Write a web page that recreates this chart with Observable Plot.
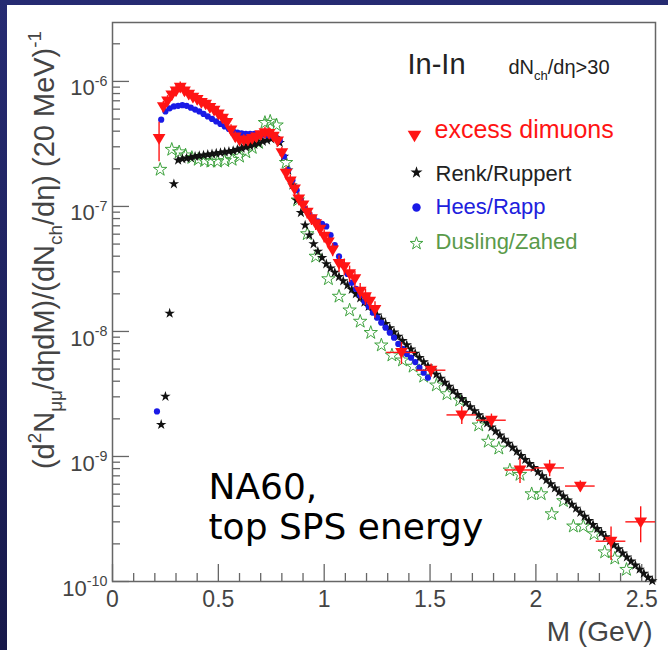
<!DOCTYPE html>
<html>
<head>
<meta charset="utf-8">
<script src="https://cdn.jsdelivr.net/npm/d3@7"></script>
<script src="https://cdn.jsdelivr.net/npm/@observablehq/plot@0.6"></script>
<style>
html, body { margin: 0; padding: 0; width: 668px; height: 650px; overflow: hidden;
  background: linear-gradient(to bottom, #262b72, #17194a); }
#wrap { position: absolute; left: 7px; top: 5px; width: 661px; height: 645px; background: #fff; }
#wrap svg { display: block; }
</style>
</head>
<body>
<div id="wrap"></div>
<script>
// ---------------- DATA ----------------
// NA60 excess dimuons (In-In, dNch/deta > 30)
const excessMass = [0.22,0.24,0.26,0.28,0.30,0.32,0.34,0.36,0.38,0.40,
  0.42,0.44,0.46,0.48,0.50,0.52,0.54,0.56,0.58,0.60,
  0.62,0.64,0.66,0.68,0.70,0.72,0.74,0.76,0.78,0.80,
  0.82,0.84,0.86,0.88,0.90,0.92,0.94,0.96,0.98,1.00,
  1.02,1.04,1.07,1.095,1.12,1.145,1.17,1.195,1.215,1.24,
  1.365,1.505,1.65,1.79,1.925,2.065,2.21,2.355,2.495];
const excessValue = [3.5e-7,6.3e-7,7.0e-7,7.8e-7,8.4e-7,9.0e-7,8.4e-7,7.9e-7,7.5e-7,7.2e-7,
  6.8e-7,6.6e-7,6.2e-7,5.9e-7,5.5e-7,5.1e-7,4.7e-7,4.1e-7,3.6e-7,3.4e-7,
  3.4e-7,3.4e-7,3.5e-7,3.6e-7,3.75e-7,3.9e-7,3.85e-7,3.65e-7,3.35e-7,2.7e-7,
  1.85e-7,1.6e-7,1.38e-7,1.15e-7,1.03e-7,9.0e-8,8.0e-8,7.3e-8,6.6e-8,5.8e-8,
  5.2e-8,4.5e-8,3.5e-8,3.3e-8,2.9e-8,2.65e-8,2.1e-8,1.9e-8,1.75e-8,1.5e-8,
  6.8e-9,4.9e-9,2.15e-9,1.95e-9,7.8e-10,8.1e-10,5.8e-10,2.1e-10,3.0e-10];
// relative vertical error of each excess point
const excessRelErr = [0.35,0.1,0.1,0.1,0.1,0.1,0.1,0.1,0.1,0.1,
  0.1,0.1,0.1,0.1,0.1,0.1,0.1,0.1,0.1,0.1,
  0.1,0.1,0.1,0.1,0.1,0.1,0.1,0.1,0.1,0.1,
  0.12,0.12,0.12,0.12,0.12,0.12,0.12,0.12,0.12,0.12,
  0.12,0.12,0.15,0.15,0.15,0.15,0.15,0.15,0.15,0.15,
  0.2,0.12,0.16,0.12,0.22,0.15,0.1,0.3,0.32];
// half width of each mass bin (GeV)
const excessBinHalf = [0.01,0.01,0.01,0.01,0.01,0.01,0.01,0.01,0.01,0.01,
  0.01,0.01,0.01,0.01,0.01,0.01,0.01,0.01,0.01,0.01,
  0.01,0.01,0.01,0.01,0.01,0.01,0.01,0.01,0.01,0.01,
  0.01,0.01,0.01,0.01,0.01,0.01,0.01,0.01,0.01,0.01,
  0.01,0.01,0.0125,0.0125,0.0125,0.0125,0.0125,0.0125,0.0125,0.0125,
  0.07,0.07,0.07,0.07,0.07,0.07,0.07,0.07,0.07];

// Renk/Ruppert model: mass (GeV) and log10 of the yield
const renkMass = [0.23,0.25,0.27,0.29,0.31,0.33,0.35,0.37,0.39,0.41,
  0.43,0.45,0.47,0.49,0.51,0.53,0.55,0.57,0.59,0.61,
  0.63,0.65,0.67,0.69,0.71,0.73,0.75,0.77,0.79,0.81,
  0.83,0.85,0.87,0.89,0.91,0.93,0.95,0.97,0.99,1.01,
  1.03,1.05,1.07,1.09,1.11,1.13,1.15,1.17,1.19,1.21,
  1.23,1.25,1.27,1.29,1.31,1.33,1.35,1.37,1.39,1.41,
  1.43,1.45,1.47,1.49,1.51,1.53,1.55,1.57,1.59,1.61,
  1.63,1.65,1.67,1.69,1.71,1.73,1.75,1.77,1.79,1.81,
  1.83,1.85,1.87,1.89,1.91,1.93,1.95,1.97,1.99,2.01,
  2.03,2.05,2.07,2.09,2.11,2.13,2.15,2.17,2.19,2.21,
  2.23,2.25,2.27,2.29,2.31,2.33,2.35,2.37,2.39,2.41,
  2.43,2.45,2.47,2.49,2.51,2.53,2.55];
const renkLog10 = [-8.745,-8.52,-7.855,-6.82,-6.63,-6.62,-6.615,-6.61,-6.60,-6.595,
  -6.59,-6.585,-6.58,-6.575,-6.57,-6.565,-6.56,-6.555,-6.545,-6.535,
  -6.525,-6.515,-6.505,-6.495,-6.48,-6.47,-6.46,-6.45,-6.49,-6.6,
  -6.71,-6.83,-6.95,-7.05,-7.15,-7.23,-7.3,-7.36,-7.41,-7.46,
  -7.494,-7.528,-7.562,-7.596,-7.63,-7.665,-7.699,-7.733,-7.767,-7.801,
  -7.835,-7.869,-7.903,-7.937,-7.972,-8.006,-8.04,-8.074,-8.108,-8.142,
  -8.176,-8.21,-8.244,-8.278,-8.31,-8.343,-8.375,-8.408,-8.44,-8.473,
  -8.505,-8.538,-8.57,-8.603,-8.635,-8.668,-8.70,-8.733,-8.765,-8.798,
  -8.83,-8.863,-8.895,-8.928,-8.96,-8.993,-9.025,-9.058,-9.09,-9.123,
  -9.155,-9.188,-9.22,-9.253,-9.285,-9.318,-9.35,-9.383,-9.415,-9.448,
  -9.48,-9.513,-9.545,-9.578,-9.61,-9.643,-9.675,-9.708,-9.74,-9.773,
  -9.805,-9.838,-9.87,-9.903,-9.935,-9.968,-9.995];

// Hees/Rapp model
const heesMass = [0.21,0.23,0.25,0.27,0.29,0.31,0.33,0.35,0.37,0.39,
  0.41,0.43,0.45,0.47,0.49,0.51,0.53,0.55,0.57,0.59,
  0.61,0.63,0.65,0.67,0.69,0.71,0.73,0.75,0.77,0.79,
  0.81,0.83,0.85,0.87,0.89,0.91,0.93,0.95,0.97,0.99,
  1.01,1.03,1.05,1.07,1.09,1.11,1.13,1.15,1.17,1.19,
  1.21,1.23,1.25,1.27,1.29,1.31,1.33,1.35,1.37,1.39,
  1.41,1.43,1.45,1.47,1.49];
const heesLog10 = [-8.64,-6.306,-6.24,-6.215,-6.2,-6.195,-6.19,-6.195,-6.21,-6.225,
  -6.24,-6.26,-6.28,-6.30,-6.32,-6.34,-6.36,-6.38,-6.40,-6.41,
  -6.415,-6.42,-6.42,-6.42,-6.42,-6.425,-6.43,-6.435,-6.44,-6.47,
  -6.6,-6.71,-6.79,-6.87,-6.95,-7.02,-7.06,-7.09,-7.12,-7.14,
  -7.16,-7.23,-7.31,-7.40,-7.47,-7.54,-7.61,-7.66,-7.71,-7.76,
  -7.80,-7.85,-7.89,-7.93,-7.97,-8.01,-8.05,-8.10,-8.14,-8.18,
  -8.21,-8.245,-8.29,-8.33,-8.37];

// Dusling/Zahed model
const dzMass = [0.225,0.28,0.315,0.345,0.375,0.405,0.435,0.465,0.495,0.53,
  0.565,0.60,0.63,0.66,0.69,0.72,0.745,0.775,0.82,0.875,
  0.92,0.96,1.02,1.07,1.12,1.17,1.22,1.27,1.32,1.37,
  1.42,1.47,1.53,1.58,1.64,1.73,1.775,1.825,1.877,1.925,
  1.98,2.025,2.075,2.13,2.177,2.224,2.275,2.325,2.373,2.428];
const dzLog10 = [-6.705,-6.545,-6.565,-6.59,-6.61,-6.625,-6.635,-6.64,-6.64,-6.635,
  -6.625,-6.60,-6.565,-6.53,-6.49,-6.33,-6.32,-6.35,-6.65,-6.95,
  -7.22,-7.40,-7.58,-7.72,-7.83,-7.92,-8.01,-8.11,-8.19,-8.23,
  -8.28,-8.36,-8.43,-8.5,-8.55,-8.75,-8.88,-8.935,-9.11,-9.145,
  -9.30,-9.30,-9.46,-9.355,-9.558,-9.558,-9.62,-9.765,-9.815,-9.905];

// Axis ticks and texts
const xMajorTicks = [0, 0.5, 1, 1.5, 2, 2.5];
const xMinorTicks = [0.1,0.2,0.3,0.4,0.6,0.7,0.8,0.9,1.1,1.2,1.3,1.4,1.6,1.7,1.8,1.9,2.1,2.2,2.3,2.4];
const yMajorTicks = [1e-10, 1e-9, 1e-8, 1e-7, 1e-6];
const yMinorFactors = [2, 3, 4, 5, 6, 7, 8, 9];
const xDomain = [0, 2.565];
const yDomain = [1e-10, 2.96e-6];
const seriesNames = ["excess dimuons", "Renk/Ruppert", "Hees/Rapp", "Dusling/Zahed"];
const xTitle = "M (GeV)";
const yTitle = "(d^{2}N_{μμ}/dηdM)/(dN_{ch}/dη) (20 MeV)^{-1}";
const systemLabel = "In-In";
const cutLabel = "dN_{ch}/dη>30";
const noteLabel = "NA60,\ntop SPS energy";

// ---------------- tables built from the arrays ----------------
const excess = excessMass.map((m, i) => ({
  m, v: excessValue[i],
  lo: excessValue[i] * (1 - excessRelErr[i]), hi: excessValue[i] * (1 + excessRelErr[i]),
  m1: m - excessBinHalf[i], m2: m + excessBinHalf[i]
}));
const renk = renkMass.map((m, i) => ({m, v: Math.pow(10, renkLog10[i])}));
const hees = heesMass.map((m, i) => ({m, v: Math.pow(10, heesLog10[i])}));
const dz = dzMass.map((m, i) => ({m, v: Math.pow(10, dzLog10[i])}));
const yMinorTicks = yMajorTicks.flatMap(t => yMinorFactors.map(f => t * f)).filter(t => t < yDomain[1]);

// ---------------- styles ----------------
const RED = "#ff1414", BLACK = "#111111", BLUE = "#1a1ae6", GREEN = "#3fa33f", GREEN_TXT = "#5a9a4a";
const AXIS = "#666666", LABEL = "#444444";
const SANS = "'Liberation Sans', Arial, Helvetica, sans-serif";

const triangleDown = {
  draw(ctx, size) {
    const r = Math.sqrt(size / Math.PI);
    ctx.moveTo(-1.1 * r, -0.75 * r);
    ctx.lineTo(1.1 * r, -0.75 * r);
    ctx.lineTo(0, 1.1 * r);
    ctx.closePath();
  }
};

const chart = Plot.plot({
  width: 661, height: 645,
  marginLeft: 105, marginRight: 13, marginTop: 17, marginBottom: 69,
  x: {domain: xDomain},
  y: {type: "log", domain: yDomain},
  style: {fontFamily: SANS, background: "white"},
  marks: [
    // axes: inward ticks
    Plot.axisX({ticks: xMinorTicks, tickSize: -8, text: null, label: null, stroke: AXIS, strokeWidth: 1.3}),
    Plot.axisX({ticks: xMajorTicks, tickSize: -17, text: null, label: null, stroke: AXIS, strokeWidth: 1.3}),
    Plot.axisX({ticks: xMajorTicks, tickSize: 0, tickPadding: 9, label: null, fontSize: 23, fill: LABEL,
      tickFormat: d => d3.format("~g")(d)}),
    Plot.axisY({ticks: yMinorTicks, tickSize: -8, text: null, label: null, stroke: AXIS, strokeWidth: 1.3}),
    Plot.axisY({ticks: yMajorTicks, tickSize: -17, text: null, label: null, stroke: AXIS, strokeWidth: 1.3}),
    Plot.axisY({ticks: yMajorTicks, tickSize: 0, tickPadding: 5, label: null, fontSize: 22, fill: LABEL, dy: 7,
      tickFormat: d => `10^{${Math.round(Math.log10(d))}}`}),
    Plot.frame({stroke: AXIS, strokeWidth: 1.5}),

    // models
    Plot.dot(dz, {x: "m", y: "v", symbol: "star", r: 4.2, stroke: GREEN, strokeWidth: 1, fill: "none"}),
    Plot.dot(renk, {x: "m", y: "v", symbol: "star", r: 3.3, fill: BLACK, stroke: "none"}),
    Plot.dot(hees, {x: "m", y: "v", symbol: "circle", r: 3.1, fill: BLUE, stroke: "none"}),

    // excess data with error bars
    Plot.ruleX(excess, {x: "m", y1: "lo", y2: "hi", stroke: RED, strokeWidth: 1.4}),
    Plot.ruleY(excess, {y: "v", x1: "m1", x2: "m2", stroke: RED, strokeWidth: 1.4}),
    Plot.dot(excess, {x: "m", y: "v", symbol: triangleDown, r: 5.8, fill: RED, stroke: "none"}),

    // titles
    Plot.text([xTitle], {frameAnchor: "bottom-right", dx: -3, dy: 59, textAnchor: "end", lineAnchor: "bottom",
      fontSize: 28, fill: LABEL}),
    Plot.text([yTitle], {frameAnchor: "left", rotate: -90, dx: -59, dy: -52, textAnchor: "middle", lineAnchor: "bottom",
      fontSize: 29, fill: LABEL}),

    // header inside the frame
    Plot.text([systemLabel], {frameAnchor: "top-left", dx: 295, dy: 51, textAnchor: "start", lineAnchor: "bottom",
      fontSize: 29, fill: "#222"}),
    Plot.text([cutLabel], {frameAnchor: "top-left", dx: 396, dy: 51, textAnchor: "start", lineAnchor: "bottom",
      fontSize: 20, fill: "#222"}),

    // legend
    Plot.dot([seriesNames[0]], {frameAnchor: "top-left", dx: 302, dy: 113, symbol: triangleDown, r: 6.2, fill: RED}),
    Plot.dot([seriesNames[1]], {frameAnchor: "top-left", dx: 304, dy: 150, symbol: "star", r: 3.8, fill: BLACK}),
    Plot.dot([seriesNames[2]], {frameAnchor: "top-left", dx: 304, dy: 185, symbol: "circle", r: 4.2, fill: BLUE}),
    Plot.dot([seriesNames[3]], {frameAnchor: "top-left", dx: 304, dy: 221, symbol: "star", r: 4, stroke: GREEN, fill: "none", strokeWidth: 1}),
    Plot.text([seriesNames[0]], {frameAnchor: "top-left", dx: 322, dy: 115, textAnchor: "start", lineAnchor: "bottom", fontSize: 25, fill: RED}),
    Plot.text([seriesNames[1]], {frameAnchor: "top-left", dx: 323, dy: 158, textAnchor: "start", lineAnchor: "bottom", fontSize: 22, fill: "#222"}),
    Plot.text([seriesNames[2]], {frameAnchor: "top-left", dx: 323, dy: 191, textAnchor: "start", lineAnchor: "bottom", fontSize: 22, fill: "#2020dd"}),
    Plot.text([seriesNames[3]], {frameAnchor: "top-left", dx: 323, dy: 226, textAnchor: "start", lineAnchor: "bottom", fontSize: 22, fill: GREEN_TXT}),

    // annotation
    Plot.text([noteLabel], {frameAnchor: "top-left", dx: 96, dy: 516, textAnchor: "start", lineAnchor: "bottom",
      lineHeight: 1.1, fontSize: 36, fontFamily: "'DejaVu Sans', Verdana, sans-serif", fill: "#000"})
  ]
});

document.getElementById("wrap").appendChild(chart);

// turn ^{..} and _{..} markup into raised / lowered tspans
d3.select(chart).selectAll("text").each(function () {
  const el = this;
  if (el.querySelector("tspan")) return;
  const s = el.textContent;
  if (!/[\^_]\{/.test(s)) return;
  const fs = parseFloat(getComputedStyle(el).fontSize) || 16;
  const parts = [];
  const re = /([\^_])\{([^}]*)\}/g;
  let last = 0, m;
  while ((m = re.exec(s))) {
    if (m.index > last) parts.push({t: s.slice(last, m.index), k: ""});
    parts.push({t: m[2], k: m[1]});
    last = re.lastIndex;
  }
  if (last < s.length) parts.push({t: s.slice(last), k: ""});
  el.textContent = "";
  let shift = 0;
  for (const p of parts) {
    const target = p.k === "^" ? -0.42 * fs : p.k === "_" ? 0.3 * fs : 0;
    const ts = document.createElementNS("http://www.w3.org/2000/svg", "tspan");
    if (p.k) ts.setAttribute("font-size", (0.65 * fs).toFixed(1));
    const dy = target - shift;
    if (dy) ts.setAttribute("dy", dy.toFixed(1));
    shift = target;
    ts.textContent = p.t;
    el.appendChild(ts);
  }
});
</script>
</body>
</html>
